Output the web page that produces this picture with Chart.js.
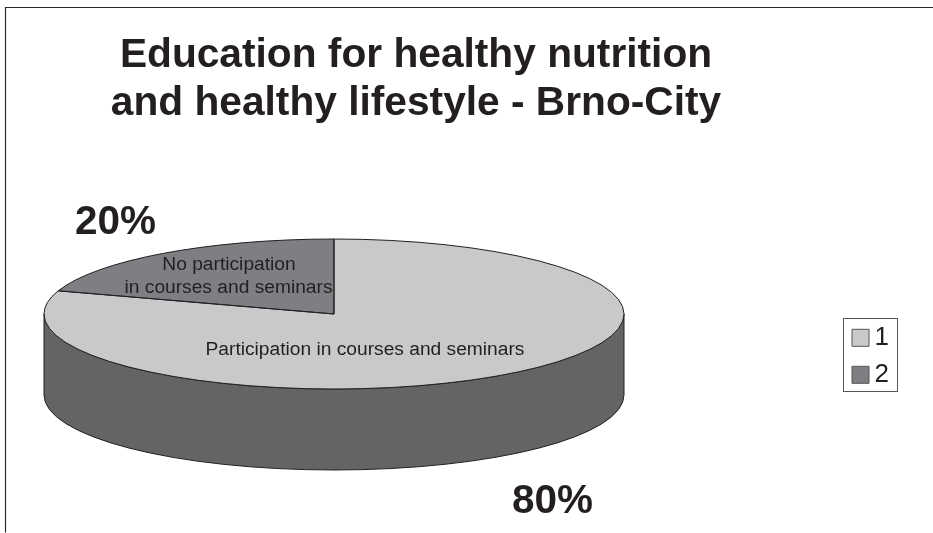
<!DOCTYPE html>
<html><head><meta charset="utf-8">
<style>html,body{margin:0;padding:0;background:#fff}canvas{display:block}</style>
<script src="https://cdn.jsdelivr.net/npm/chart.js@4"></script>
</head><body>
<canvas id="c" width="933" height="533"></canvas>
<script>
const categories = ['1', '2'];
const values = [80, 20];
const valueLabels = ['80%', '20%'];
const sliceNotes = [['Participation in courses and seminars'], ['No participation', 'in courses and seminars']];
const sliceColors = ['#c8c9cb', '#7e7f82'];
const titleLines = ['Education for healthy nutrition', 'and healthy lifestyle - Brno-City'];

const INK = '#231f20', WALL = '#636466', FONT = '"Liberation Sans", Arial, sans-serif';
const view = {cx: 334, cy: 314, rx: 290, ry: 75, depth: 81};

const pie3d = {
  id: 'pie3d',
  afterLayout(chart) {
    const t = chart.titleBlock; t.left = 0; t.right = 832;
    const l = chart.legend;
    l.left = 841; l.right = 889; l.width = l.right - l.left;
    l.top = 313.8; l.bottom = 400;
  },
  beforeDraw(chart) {
    const c = chart.ctx;
    c.save();
    c.strokeStyle = '#2a2a2a'; c.lineWidth = 1.2;
    c.beginPath(); c.moveTo(933, 7.5); c.lineTo(5.5, 7.5); c.lineTo(5.5, 532.5); c.stroke();
    c.restore();
  },
  beforeDatasetsDraw(chart) {
    const c = chart.ctx, v = view;
    c.save();
    c.beginPath();
    c.moveTo(v.cx - v.rx, v.cy);
    c.lineTo(v.cx - v.rx, v.cy + v.depth);
    c.ellipse(v.cx, v.cy + v.depth, v.rx, v.ry, 0, Math.PI, 0, true);
    c.lineTo(v.cx + v.rx, v.cy);
    c.ellipse(v.cx, v.cy, v.rx, v.ry, 0, 0, Math.PI, false);
    c.closePath();
    c.fillStyle = WALL; c.fill();
    c.strokeStyle = INK; c.lineWidth = 1; c.stroke();
    c.restore();
  },
  beforeDatasetDraw(chart) {
    const c = chart.ctx, v = view, a = chart.getDatasetMeta(0).data[0];
    c.save();
    c.translate(v.cx, v.cy);
    c.scale(v.rx / a.outerRadius, v.ry / a.outerRadius);
    c.translate(-a.x, -a.y);
  },
  afterDatasetDraw(chart) {
    chart.ctx.restore();
  },
  afterDatasetsDraw(chart) {
    const c = chart.ctx, v = view;
    c.save();
    c.strokeStyle = INK; c.lineWidth = 1; c.lineJoin = 'round';
    chart.getDatasetMeta(0).data.forEach(a => {
      c.beginPath();
      c.moveTo(v.cx, v.cy);
      c.ellipse(v.cx, v.cy, v.rx, v.ry, 0, a.startAngle, a.endAngle, false);
      c.closePath();
      c.stroke();
    });
    c.restore();
  },
  afterDraw(chart) {
    const c = chart.ctx;
    c.save();
    c.strokeStyle = '#555'; c.lineWidth = 1;
    c.strokeRect(843.5, 318.5, 54, 73);
    c.fillStyle = INK;
    c.textBaseline = 'alphabetic';
    c.textAlign = 'left';
    c.font = 'bold 40.5px ' + FONT;
    c.fillText(valueLabels[1], 75, 234);
    c.fillText(valueLabels[0], 512, 513);
    c.textAlign = 'center';
    c.font = '19.2px ' + FONT;
    c.fillText(sliceNotes[0][0], 365, 355);
    c.fillText(sliceNotes[1][0], 229, 270);
    c.fillText(sliceNotes[1][1], 228.5, 293);
    c.restore();
  }
};

new Chart(document.getElementById('c'), {
  type: 'pie',
  plugins: [pie3d],
  data: {
    labels: categories,
    datasets: [{data: values, backgroundColor: sliceColors, borderWidth: 0, clip: false}]
  },
  options: {
    responsive: false,
    animation: false,
    devicePixelRatio: 1,
    plugins: {
      tooltip: {enabled: false},
      title: {
        display: true, text: titleLines, color: INK, align: 'center',
        padding: {top: 31, bottom: 10},
        font: {family: FONT, size: 40.7, weight: 'bold', lineHeight: 1.2}
      },
      legend: {
        position: 'right', align: 'start',
        labels: {
          boxWidth: 17, boxHeight: 17, padding: 11, color: INK, textAlign: 'right',
          font: {family: FONT, size: 26},
          generateLabels(chart) {
            return Chart.overrides.pie.plugins.legend.labels.generateLabels(chart)
              .map(i => Object.assign(i, {strokeStyle: '#555', lineWidth: 1}));
          }
        }
      }
    }
  }
});
</script>
</body></html>
